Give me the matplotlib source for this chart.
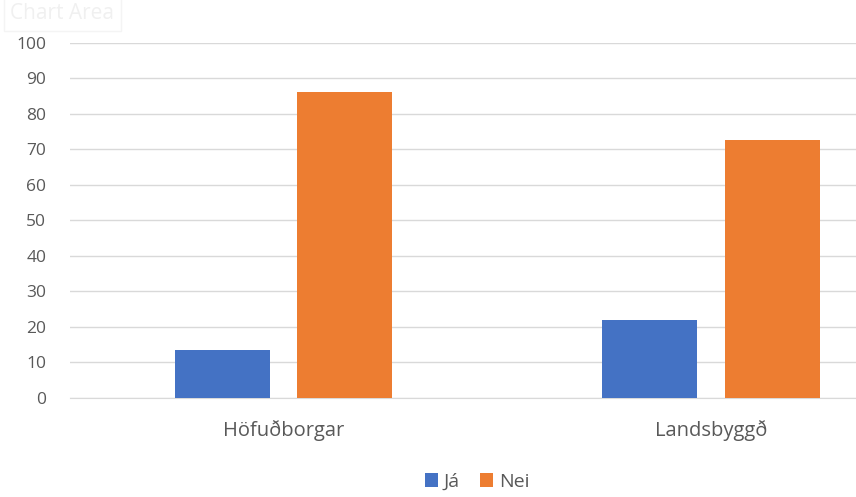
import matplotlib.pyplot as plt
import numpy as np

categories = ['Höfuðborgar', 'Landsbyggð']
ja = [13.5, 22.1]
nei = [86.2, 72.6]
yticks = [0, 10, 20, 30, 40, 50, 60, 70, 80, 90, 100]

plt.rcParams['font.family'] = ['Open Sans', 'DejaVu Sans']

fig = plt.figure(figsize=(8.56, 4.97), dpi=100)
ax = fig.add_axes([0.0815, 0.1992, 0.9185, 0.7143])

x = np.arange(len(categories))
w = 0.222
ax.bar(x - 0.143, ja, w, color='#4472C4', label='Já', zorder=3)
ax.bar(x + 0.143, nei, w, color='#ED7D31', label='Nei', zorder=3)

ax.set_ylim(0, 100)
ax.set_xlim(-0.5, 1.339)
ax.set_yticks(yticks)
ax.set_xticks(x)
ax.set_xticklabels(categories)
ax.grid(axis='y', color='#d9d9d9', linewidth=1, zorder=0)
for s in ['top', 'right', 'left']:
    ax.spines[s].set_visible(False)
ax.spines['bottom'].set_color('#d9d9d9')
ax.tick_params(axis='y', length=0, pad=17, labelsize=12.5, labelcolor='#595959')
ax.tick_params(axis='x', length=0, pad=16, labelsize=14.5, labelcolor='#595959')

fig.legend(loc='center', bbox_to_anchor=(477 / 856, 1 - 482 / 497), ncol=2,
           frameon=False, fontsize=14, labelcolor='#595959',
           handlelength=0.7, handleheight=0.7, handletextpad=0.3, columnspacing=1.0)

fig.text(0.012, 0.972, 'Chart Area', fontsize=15, color='#f0f0f0', va='center',
         bbox=dict(facecolor='white', edgecolor='#f4f4f4', boxstyle='square,pad=0.3'))

fig.savefig('out.png', dpi=100)
